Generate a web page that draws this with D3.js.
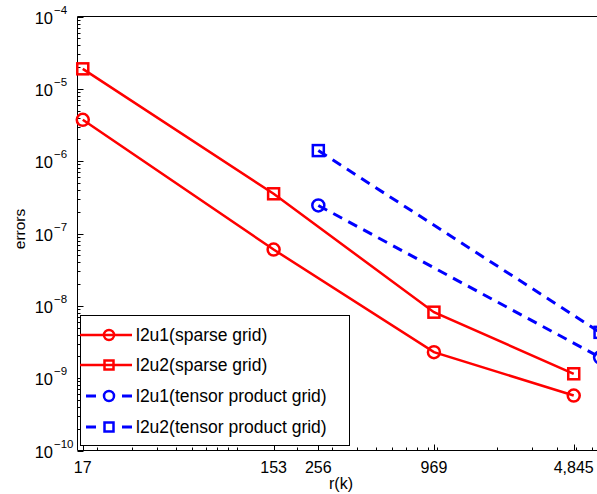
<!DOCTYPE html>
<html>
<head>
<meta charset="utf-8">
<script src="https://cdn.jsdelivr.net/npm/d3@7"></script>
<style>
  body { margin: 0; background: #fff; }
  svg { display: block; font-family: "Liberation Sans", Arial, sans-serif; }
</style>
</head>
<body>
<svg id="chart" width="597" height="494"></svg>
<script>
const sparseK = [17, 153, 969, 4845];
const tensorK = [256, 6561];
const l2u1Sparse = [3.73e-6, 6.0e-8, 2.29e-9, 5.75e-10];
const l2u2Sparse = [1.89e-5, 3.54e-7, 8.17e-9, 1.15e-9];
const l2u1Tensor = [2.44e-7, 1.94e-9];
const l2u2Tensor = [1.4e-6, 4.3e-9];
const xTicks = [17, 153, 256, 969, 4845];
const yExponents = [-10, -9, -8, -7, -6, -5, -4];

const series = [
  { name: "l2u1(sparse grid)", xs: sparseK, ys: l2u1Sparse, color: "#ff0000", marker: "circle", dash: null },
  { name: "l2u2(sparse grid)", xs: sparseK, ys: l2u2Sparse, color: "#ff0000", marker: "square", dash: null },
  { name: "l2u1(tensor product grid)", xs: tensorK, ys: l2u1Tensor, color: "#0000ff", marker: "circle", dash: "10,7" },
  { name: "l2u2(tensor product grid)", xs: tensorK, ys: l2u2Tensor, color: "#0000ff", marker: "square", dash: "10,7" }
];

const svg = d3.select("#chart");
const plotLeft = 77.5, plotTop = 16.5, plotBottom = 450.5;
const plotRight = plotLeft + 200 * Math.log10(8000 / 16);

const x = d3.scaleLog().domain([16, 8000]).range([plotLeft, plotRight]);
const y = d3.scaleLog().domain([1e-10, 1e-4]).range([plotBottom, plotTop]);

// frame
svg.append("path")
  .attr("d", `M${plotRight},${plotTop}H${plotLeft}V${plotBottom}H${plotRight}`)
  .attr("fill", "none").attr("stroke", "#000").attr("stroke-width", 1);

// minor ticks
const minorX = [];
for (let d = 10; d <= 1000; d *= 10) for (let m = 1; m <= 9; m++) {
  const v = d * m; if (v > 16 && v < 8000) minorX.push(v);
}
svg.append("g").selectAll("line").data(minorX).join("line")
  .attr("x1", d => Math.round(x(d)) + 0.5).attr("x2", d => Math.round(x(d)) + 0.5)
  .attr("y1", plotBottom).attr("y2", plotBottom - 3).attr("stroke", "#000");

const minorY = [];
for (let e = -10; e < -4; e++) for (let m = 2; m <= 9; m++) minorY.push(m * Math.pow(10, e));
svg.append("g").selectAll("line").data(minorY).join("line")
  .attr("y1", d => Math.round(y(d)) + 0.5).attr("y2", d => Math.round(y(d)) + 0.5)
  .attr("x1", plotLeft).attr("x2", plotLeft + 3).attr("stroke", "#000");

// major ticks
svg.append("g").selectAll("line").data(xTicks).join("line")
  .attr("x1", d => Math.round(x(d)) + 0.5).attr("x2", d => Math.round(x(d)) + 0.5)
  .attr("y1", plotBottom).attr("y2", plotBottom - 6).attr("stroke", "#000");
svg.append("g").selectAll("line").data(yExponents).join("line")
  .attr("y1", e => Math.round(y(Math.pow(10, e))) + 0.5).attr("y2", e => Math.round(y(Math.pow(10, e))) + 0.5)
  .attr("x1", plotLeft).attr("x2", plotLeft + 6).attr("stroke", "#000");

// tick labels
svg.append("g").selectAll("text").data(xTicks).join("text")
  .attr("x", d => x(d)).attr("y", 473)
  .attr("text-anchor", "middle").attr("font-size", 16)
  .text(d => d3.format(",")(d));

svg.append("g").selectAll("text").data(yExponents).join("text")
  .attr("x", 53).attr("y", e => y(Math.pow(10, e)) + 7)
  .attr("text-anchor", "end").attr("font-size", 16.5).text("10");
svg.append("g").selectAll("text").data(yExponents).join("text")
  .attr("x", 54).attr("y", e => y(Math.pow(10, e)) - 3)
  .attr("font-size", 11.5).text(e => "\u2212" + Math.abs(e));

// axis titles
svg.append("text").attr("x", 341).attr("y", 489).attr("text-anchor", "middle")
  .attr("font-size", 16).text("r(k)");
svg.append("text").attr("transform", "translate(25,229) rotate(-90)")
  .attr("text-anchor", "middle").attr("font-size", 15.5).text("errors");

const line = d3.line().x(d => x(d[0])).y(d => y(d[1]));

function drawMarker(g, type, color) {
  if (type === "circle") {
    g.append("circle").attr("r", 6).attr("fill", "none")
      .attr("stroke", color).attr("stroke-width", 2.5);
  } else {
    g.append("rect").attr("x", -5.5).attr("y", -5.5).attr("width", 11).attr("height", 11)
      .attr("fill", "none").attr("stroke", color).attr("stroke-width", 2.5);
  }
}

series.forEach(s => {
  const pts = s.xs.map((v, i) => [v, s.ys[i]]);
  svg.append("path").datum(pts).attr("d", line)
    .attr("fill", "none").attr("stroke", s.color).attr("stroke-width", s.dash ? 3 : 2.5)
    .attr("stroke-dasharray", s.dash);
  pts.forEach(p => {
    const g = svg.append("g").attr("transform", `translate(${x(p[0])},${y(p[1])})`);
    drawMarker(g, s.marker, s.color);
  });
});

// legend
const lg = svg.append("g");
lg.append("rect").attr("x", 80.5).attr("y", 315.5).attr("width", 269).attr("height", 130)
  .attr("fill", "#fff").attr("stroke", "#000");
const rowY = [335, 365, 396, 427];
series.forEach((s, i) => {
  const ry = rowY[i];
  lg.append("line").attr("x1", s.dash ? 86 : 80).attr("x2", 132).attr("y1", ry).attr("y2", ry)
    .attr("stroke", s.color).attr("stroke-width", s.dash ? 3 : 2.5)
    .attr("stroke-dasharray", s.dash ? "10,26" : null);
  const g = lg.append("g").attr("transform", `translate(109,${ry})`);
  if (s.marker === "circle") {
    g.append("circle").attr("r", 5).attr("fill", "none").attr("stroke", s.color).attr("stroke-width", 2.5);
  } else {
    g.append("rect").attr("x", -4.5).attr("y", -4.5).attr("width", 9).attr("height", 9)
      .attr("fill", "none").attr("stroke", s.color).attr("stroke-width", 2.5);
  }
  lg.append("text").attr("x", 136).attr("y", ry + 6).attr("font-size", 17.5).text(s.name);
});
</script>
</body>
</html>
